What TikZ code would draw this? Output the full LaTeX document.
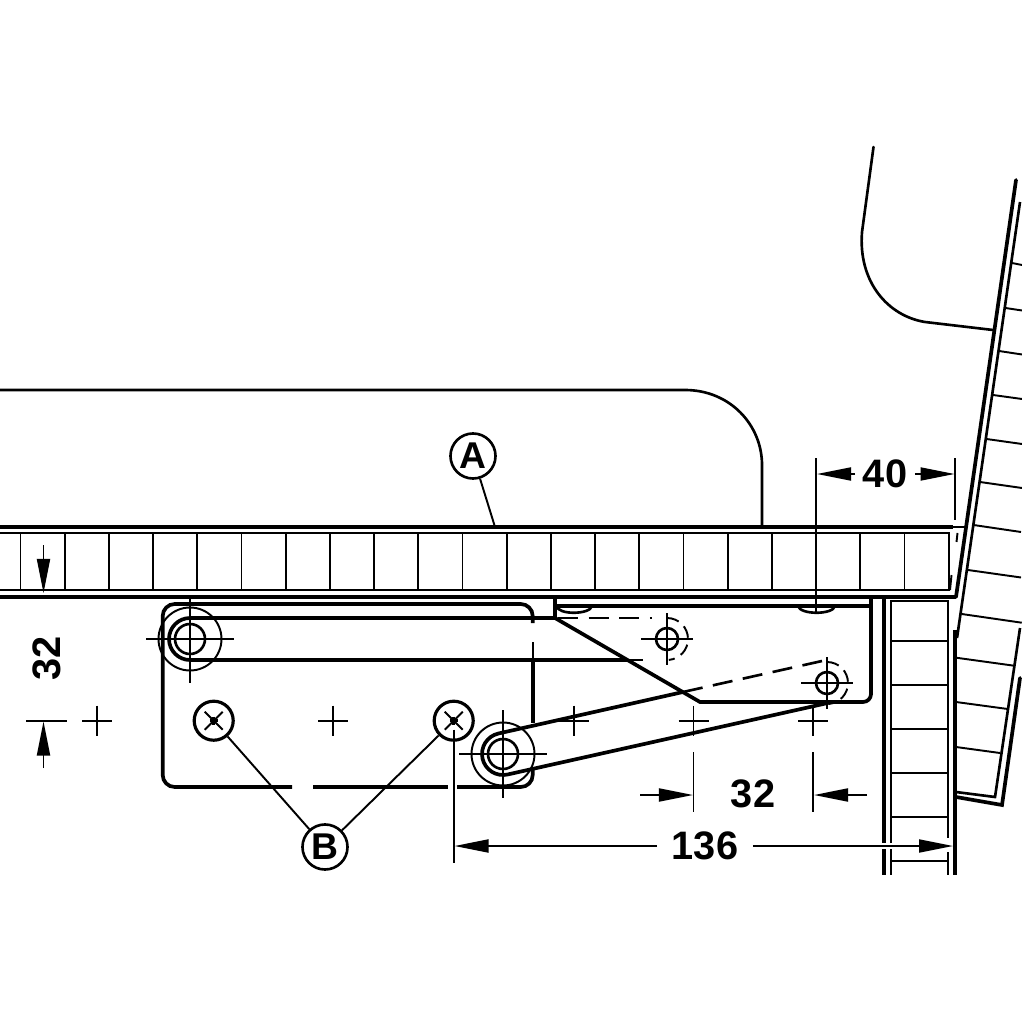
\documentclass[tikz,border=0pt]{standalone}
\usepackage{fontspec}
\setmainfont{Liberation Sans}
\usetikzlibrary{calc, positioning, arrows.meta}

\begin{document}
\begin{tikzpicture}[
    x=0.01cm, y=-0.01cm,
    >={Triangle[length=0.34cm, width=0.13cm]},
    heavy/.style={line width=1.05pt},
    medium/.style={line width=0.75pt},
    fine/.style={line width=0.55pt},
    dim/.style={fine, ->},
    dimtext/.style={font=\fontsize{11.3}{12}\selectfont\bfseries, inner sep=2pt},
    callout/.style={draw, circle, line width=0.75pt, minimum size=0.45cm, inner sep=0pt, font=\fontsize{10.6}{12}\selectfont\bfseries},
    screw/.style={draw, circle, line width=0.9pt, minimum size=0.39cm, inner sep=0pt}
]
    \useasboundingbox (0,0) rectangle (1022,1022);

    % Worktop profile
    \draw[medium, line cap=round] (0,390) -- (685,390) .. controls (730,390) and (762,425) .. (762,465) -- (762,527);

    % Horizontal panel
    \draw[heavy] (0,527) -- (953,527);
    \draw[fine] (953,527) -- (965,527);
    \draw[medium] (0,533) -- (949,533) -- (949,590) -- (0,590);
    \draw[heavy] (0,597) -- (956,597);
    \foreach \n in {0,...,20} {
        \draw[fine] ({20.5+44.2*\n},533) -- ({20.5+44.2*\n},590);
    }
    \draw[fine] (957.5,533) -- (956.5,542);
    \draw[fine] (951.5,575) -- (950,590);

    % Vertical panel
    \draw[heavy] (884,597) -- (884,843);
    \draw[heavy] (884,849) -- (884,875);
    \draw[medium] (891,843) -- (891,601) -- (948,601) -- (948,838);
    \draw[medium] (891,849) -- (891,875);
    \draw[medium] (948,852) -- (948,875);
    \draw[heavy] (955,630) -- (955,875);
    \foreach \y in {641,685,729,773,817} {
        \draw[fine] (891,\y) -- (948,\y);
    }
    \draw[fine] (891,861) -- (948,861);

    % Tilted door
    \draw[heavy, line cap=round] (1016,180) -- (956,597);
    \draw[medium] (1020,202) -- (957,638);
    \foreach \xa/\ya/\xb/\yb in {1012/263/1022/265, 1005.5/308/1022/310.5, 999/351/1022/354.5, 993/395/1022/399,
        986.5/439/1022/444, 980/482/1022/488, 973.5/525/1021/532, 968/570/1021/577.5, 961.7/614/1021.7/622.7,
        956/657.7/1014/665.7, 956/702/1007.7/709, 956/747/1000/753} {
        \draw[fine] (\xa,\ya) -- (\xb,\yb);
    }
    \draw[medium] (1020,628) -- (995,797) -- (956,792);
    \draw[heavy, line cap=round] (1020,678) -- (1002,805) -- (956,797);

    % Door handle
    \draw[medium, line cap=round] (873.5,147) -- (862,232) .. controls (858,282) and (888,316) .. (925,322) -- (993,330);

    % Mounting plate
    \draw[heavy] (532.7,623) -- (532.7,616) arc[start angle=0, end angle=-90, radius=12] -- (174.7,604)
        arc[start angle=270, end angle=180, radius=12] -- (162.7,775)
        arc[start angle=180, end angle=90, radius=12] -- (292,787);
    \draw[heavy] (313,787) -- (448,787);
    \draw[heavy] (457,787) -- (520.7,787) arc[start angle=90, end angle=0, radius=12] -- (532.7,770);
    \draw[fine] (532.7,642) -- (532.7,660);
    \draw[heavy] (532.7,660) -- (532.7,723);

    % Upper arm
    \coordinate (pivotA) at (190,639);
    \coordinate (pivotB) at (667,639);
    \draw[heavy] (555,618) -- (190,618) arc[start angle=270, end angle=90, radius=21] -- (627,660);
    \draw[fine] (627,660) -- (643,660);
    \draw[medium, dash pattern=on 5.7pt off 3pt] (558,618) -- (652,618);

    % Lower arm
    \coordinate (pivotC) at (503,754);
    \coordinate (pivotD) at (827,683);
    \draw[heavy] (683,692) -- (498.4,733.5) arc[start angle=257.3, end angle=77.3, radius=21] -- (830,702.5);
    \draw[medium, dash pattern=on 5.7pt off 3pt] (683,692) -- (822,661);

    % Bracket
    \draw[heavy] (555,597) -- (555,618) -- (700,702) -- (863,702) arc[start angle=90, end angle=0, radius=8] -- (871,597);
    \draw[heavy] (557,606) -- (871,606);
    \draw[medium] (557,606) .. controls (557,615) and (590,615) .. (592,606);
    \draw[medium] (798,606) .. controls (800,615) and (833,615) .. (835,606);

    % Pivot points
    \foreach \n in {pivotA, pivotC} {
        \draw[fine] (\n) circle (31.5);
        \draw[medium] (\n) circle (15);
        \draw[fine] ($(\n)+(-44,0)$) -- ($(\n)+(44,0)$);
        \draw[fine] ($(\n)+(0,-44)$) -- ($(\n)+(0,44)$);
    }
    \foreach \n in {pivotB, pivotD} {
        \draw[medium] (\n) circle (11);
        \draw[fine] ($(\n)+(-26,0)$) -- ($(\n)+(26,0)$);
        \draw[fine] ($(\n)+(0,-26)$) -- ($(\n)+(0,26)$);
        \draw[fine, dash pattern=on 3.5pt off 2pt] ($(\n)+(0,-21)$) arc[start angle=-90, end angle=85, radius=21];
    }

    % Centre crosses
    \foreach \cx/\cy in {97/720.7, 333/720.7, 574/720.7, 693.5/720.7, 813/720.7} {
        \draw[fine] ({\cx-15},\cy) -- ({\cx+15},\cy);
        \draw[fine] (\cx,{\cy-15}) -- (\cx,{\cy+15});
    }

    % Screws
    \node[screw] (scrA) at (213.7,720.7) {};
    \node[screw] (scrB) at (453.7,720.7) {};
    \foreach \n in {scrA, scrB} {
        \draw[fine] ($(\n)+(-9,-9)$) -- ($(\n)+(9,9)$);
        \draw[fine] ($(\n)+(-9,9)$) -- ($(\n)+(9,-9)$);
        \draw[medium] ($(\n)+(-4,0)$) -- ($(\n)+(4,0)$);
        \draw[medium] ($(\n)+(0,-4)$) -- ($(\n)+(0,4)$);
    }

    % Labels
    \node[callout] (A) at (473,456) {A};
    \coordinate (Aend) at (495,527);
    \draw[fine] (A) -- (Aend);
    \node[callout] (B) at (325,847) {B};
    \draw[fine] (B) -- (scrA);
    \draw[fine] (B) -- (scrB);

    % Dimension 40
    \node[dimtext] (t40) at (885,474) {40};
    \coordinate (d40l) at (817,474);
    \coordinate (d40r) at (954.5,474);
    \draw[fine] (816,458) -- (816,612);
    \draw[fine] (955,458) -- (955,520);
    \draw[dim] (t40.west) -- (d40l);
    \draw[dim] (t40.east) -- (d40r);

    % Dimension 136
    \node[dimtext, inner sep=4pt] (t136) at (705,846) {136};
    \coordinate (d136l) at (454.5,846);
    \coordinate (d136r) at (953,846);
    \draw[fine] (scrB.center) ++(0,9) -- (453.7,863);
    \draw[dim] (t136.west) -- (d136l);
    \draw[dim] (t136.east) -- (d136r);

    % Dimension 32 horizontal
    \node[dimtext] (t32h) at (753,794) {32};
    \coordinate (d32l) at (693,795);
    \coordinate (d32r) at (814,795);
    \draw[fine] (693.5,752) -- (693.5,812);
    \draw[fine] (813,752) -- (813,812);
    \draw[dim] (640,795) -- (d32l);
    \draw[dim] (867,795) -- (d32r);

    % Dimension 32 vertical
    \node[dimtext, rotate=90] (t32v) at (46.5,658) {32};
    \coordinate (d32t) at (43.5,593);
    \coordinate (d32b) at (43.5,721.5);
    \draw[fine] (26,720.7) -- (67,720.7);
    \draw[dim] (43.5,545) -- (d32t);
    \draw[dim] (43.5,768) -- (d32b);

\end{tikzpicture}
\end{document}
